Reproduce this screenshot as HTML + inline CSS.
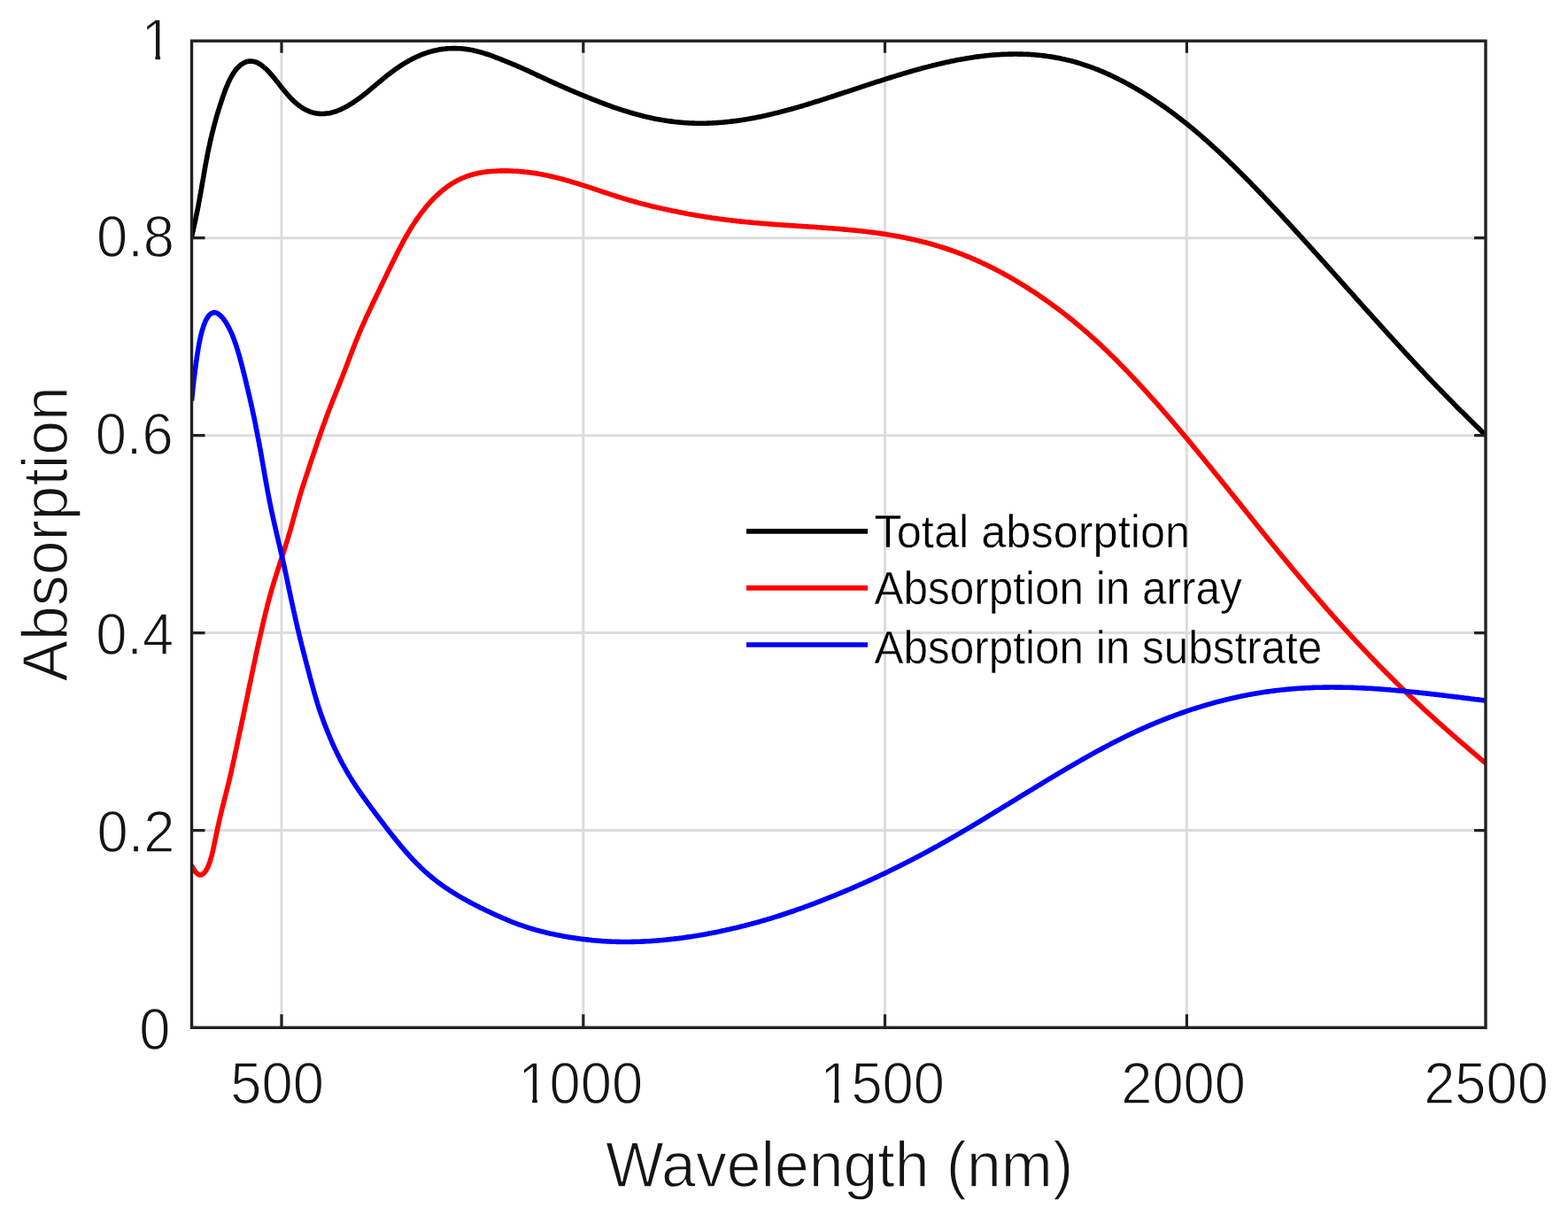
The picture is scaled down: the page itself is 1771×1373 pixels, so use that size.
<!DOCTYPE html>
<html><head><meta charset="utf-8"><title>Absorption spectrum</title>
<style>html,body{margin:0;padding:0;background:#fff;overflow:hidden;}svg{display:block;}</style>
</head><body>
<svg xmlns="http://www.w3.org/2000/svg" width="1771" height="1373" viewBox="0 0 1771 1373">
<rect width="1771" height="1373" fill="#fff"/>
<path d="M318.0,46.2V1160.3M658.8,46.2V1160.3M999.5,46.2V1160.3M1340.4,46.2V1160.3M216.5,937.6H1678.0M216.5,714.6H1678.0M216.5,491.7H1678.0M216.5,268.7H1678.0" stroke="#262626" stroke-opacity="0.16" stroke-width="3" fill="none"/>
<clipPath id="c"><rect x="216.5" y="46.2" width="1461.5" height="1114.1"/></clipPath>
<g clip-path="url(#c)" fill="none" stroke-width="5.6" stroke-linejoin="round" stroke-linecap="butt">
<path d="M216.6,267.0 216.9,265.5 217.2,264.1 217.5,262.6 217.9,261.2 218.2,259.7 218.5,258.2 218.9,256.8 219.2,255.3 219.5,253.8 219.8,252.4 220.1,250.9 220.5,249.4 220.8,248.0 221.1,246.5 221.4,245.0 221.7,243.5 222.0,242.1 222.3,240.6 222.6,239.1 222.9,237.7 223.2,236.2 223.5,234.7 223.8,233.2 224.1,231.8 224.3,230.3 224.6,228.8 224.9,227.3 225.2,225.9 225.4,224.4 225.7,222.9 226.0,221.4 226.2,220.0 226.5,218.5 226.8,217.0 227.0,215.5 227.3,214.0 227.6,212.6 227.8,211.1 228.1,209.6 228.3,208.1 228.6,206.6 228.8,205.2 229.1,203.7 229.4,202.2 229.6,200.7 229.9,199.2 230.1,197.8 230.4,196.3 230.6,194.8 230.9,193.3 231.2,191.8 231.4,190.4 231.7,188.9 231.9,187.4 232.2,185.9 232.5,184.5 232.8,183.0 233.0,181.5 233.3,180.0 233.6,178.6 233.9,177.1 234.1,175.6 234.4,174.1 234.7,172.7 235.0,171.2 235.3,169.7 235.6,168.3 235.9,166.8 236.2,165.3 236.6,163.9 236.9,162.4 237.2,160.9 237.5,159.5 237.9,158.0 238.2,156.6 238.5,155.1 238.9,153.6 239.2,152.2 239.6,150.7 239.9,149.3 240.3,147.8 240.7,146.4 241.0,144.9 241.4,143.5 241.8,142.0 242.2,140.6 242.6,139.1 243.0,137.7 243.4,136.2 243.8,134.8 244.2,133.3 244.6,131.8 245.0,130.4 245.4,128.9 245.9,127.5 246.3,126.0 246.8,124.6 247.2,123.1 247.7,121.7 248.1,120.2 248.6,118.7 249.1,117.3 249.6,115.8 250.0,114.4 250.5,112.9 251.0,111.4 251.5,109.9 252.0,108.5 252.6,107.0 253.1,105.5 253.6,104.1 254.2,102.6 254.7,101.1 255.3,99.6 255.9,98.2 256.5,96.7 257.1,95.3 257.7,93.8 258.3,92.4 259.0,91.0 259.7,89.6 260.4,88.2 261.1,86.8 261.9,85.5 262.7,84.1 263.5,82.9 264.3,81.6 265.2,80.4 266.1,79.2 267.0,78.0 268.0,76.9 269.0,75.9 270.0,74.9 271.1,74.0 272.1,73.1 273.3,72.3 274.4,71.6 275.6,71.0 276.7,70.4 277.9,69.9 279.2,69.6 280.4,69.3 281.7,69.1 282.9,69.0 284.2,69.1 285.4,69.2 286.7,69.4 287.9,69.8 289.2,70.2 290.4,70.7 291.6,71.3 292.8,72.0 294.0,72.7 295.2,73.5 296.4,74.4 297.5,75.3 298.6,76.3 299.8,77.3 300.9,78.3 302.0,79.4 303.0,80.5 304.1,81.6 305.1,82.8 306.2,83.9 307.2,85.1 308.2,86.3 309.2,87.6 310.2,88.8 311.2,90.0 312.2,91.3 313.2,92.5 314.2,93.8 315.2,95.0 316.1,96.3 317.1,97.5 318.1,98.7 319.1,100.0 320.1,101.2 321.1,102.4 322.1,103.6 323.1,104.8 324.1,106.0 325.1,107.2 326.2,108.4 327.2,109.5 328.3,110.6 329.3,111.7 330.4,112.8 331.5,113.9 332.6,114.9 333.7,115.9 334.9,116.9 336.0,117.9 337.2,118.8 338.4,119.7 339.6,120.5 340.8,121.3 342.0,122.1 343.3,122.9 344.5,123.6 345.8,124.2 347.1,124.9 348.4,125.4 349.7,126.0 351.1,126.4 352.4,126.9 353.8,127.3 355.2,127.6 356.6,127.9 357.9,128.1 359.4,128.3 360.8,128.4 362.2,128.5 363.6,128.5 365.0,128.5 366.5,128.4 367.9,128.3 369.3,128.1 370.7,127.9 372.2,127.7 373.6,127.4 375.0,127.0 376.4,126.6 377.8,126.2 379.2,125.8 380.6,125.3 382.0,124.7 383.4,124.2 384.8,123.6 386.1,123.0 387.5,122.3 388.8,121.6 390.2,120.9 391.5,120.2 392.8,119.5 394.1,118.7 395.4,117.9 396.7,117.1 398.0,116.3 399.3,115.5 400.5,114.6 401.8,113.7 403.0,112.9 404.3,112.0 405.5,111.1 406.8,110.2 408.0,109.3 409.2,108.3 410.4,107.4 411.6,106.5 412.8,105.5 414.0,104.6 415.2,103.6 416.3,102.6 417.5,101.7 418.7,100.7 419.8,99.7 421.0,98.7 422.2,97.8 423.3,96.8 424.5,95.8 425.6,94.8 426.8,93.9 428.0,92.9 429.1,91.9 430.3,91.0 431.5,90.0 432.6,89.0 433.8,88.1 435.0,87.1 436.1,86.2 437.3,85.2 438.5,84.3 439.7,83.4 440.9,82.5 442.1,81.6 443.3,80.7 444.5,79.8 445.7,78.9 447.0,78.0 448.2,77.2 449.4,76.3 450.7,75.5 451.9,74.7 453.2,73.8 454.5,73.0 455.7,72.2 457.0,71.4 458.3,70.7 459.6,69.9 460.9,69.2 462.2,68.4 463.5,67.7 464.9,67.0 466.2,66.3 467.5,65.6 468.9,65.0 470.2,64.3 471.6,63.7 473.0,63.1 474.3,62.5 475.7,61.9 477.1,61.4 478.5,60.8 479.9,60.3 481.3,59.8 482.7,59.4 484.2,58.9 485.6,58.5 487.0,58.1 488.5,57.7 489.9,57.3 491.4,57.0 492.8,56.7 494.3,56.4 495.8,56.1 497.2,55.8 498.7,55.6 500.2,55.4 501.7,55.2 503.1,55.1 504.6,54.9 506.1,54.8 507.6,54.7 509.1,54.7 510.6,54.6 512.1,54.6 513.6,54.6 515.1,54.6 516.6,54.7 518.1,54.7 519.6,54.8 521.1,54.9 522.5,55.0 524.0,55.2 525.5,55.4 527.0,55.6 528.5,55.8 529.9,56.0 531.4,56.3 532.9,56.5 534.3,56.8 535.8,57.2 537.3,57.5 538.7,57.9 540.2,58.2 541.6,58.6 543.0,59.0 544.5,59.4 545.9,59.9 547.4,60.3 548.8,60.8 550.2,61.2 551.6,61.7 553.1,62.2 554.5,62.7 555.9,63.2 557.3,63.7 558.7,64.3 560.1,64.8 561.5,65.3 562.9,65.9 564.3,66.4 565.7,67.0 567.1,67.5 568.5,68.1 569.9,68.6 571.3,69.2 572.7,69.8 574.1,70.3 575.5,70.9 576.9,71.5 578.3,72.1 579.7,72.6 580.0,72.8 581.5,73.4 583.0,74.0 584.5,74.7 586.0,75.3 587.5,76.0 589.0,76.6 590.5,77.3 592.0,78.0 593.5,78.7 595.0,79.3 596.5,80.0 598.0,80.7 599.5,81.4 601.0,82.1 602.5,82.8 604.0,83.5 605.5,84.2 607.0,84.9 608.5,85.6 610.0,86.3 611.5,87.0 613.0,87.7 614.5,88.4 616.0,89.1 617.5,89.8 619.0,90.5 620.5,91.2 622.0,91.9 623.5,92.6 625.0,93.2 626.5,93.9 628.0,94.6 629.5,95.3 631.0,96.0 632.5,96.6 634.0,97.3 635.5,98.0 637.0,98.6 638.5,99.3 640.0,99.9 641.5,100.6 643.0,101.2 644.5,101.9 646.0,102.5 647.5,103.1 649.0,103.8 650.5,104.4 652.0,105.0 653.5,105.7 655.0,106.3 656.5,106.9 658.0,107.5 659.5,108.1 661.0,108.7 662.5,109.4 664.0,110.0 665.5,110.6 667.0,111.2 668.5,111.8 670.0,112.4 671.5,113.0 673.0,113.5 674.5,114.1 676.0,114.7 677.5,115.3 679.0,115.9 680.5,116.4 682.0,117.0 683.5,117.5 685.0,118.1 686.5,118.6 688.0,119.2 689.5,119.7 691.0,120.3 692.5,120.8 694.0,121.3 695.5,121.8 697.0,122.3 698.5,122.8 700.0,123.3 701.5,123.8 703.0,124.3 704.5,124.8 706.0,125.3 707.5,125.7 709.0,126.2 710.5,126.7 712.0,127.1 713.5,127.5 715.0,128.0 716.5,128.4 718.0,128.8 719.5,129.2 721.0,129.6 722.5,130.0 724.0,130.4 725.5,130.8 727.0,131.2 728.5,131.5 730.0,131.9 731.5,132.2 733.0,132.6 734.5,132.9 736.0,133.2 737.5,133.6 739.0,133.9 740.5,134.2 742.0,134.5 743.5,134.7 745.0,135.0 746.5,135.3 748.0,135.5 749.5,135.8 751.0,136.0 752.5,136.3 754.0,136.5 755.5,136.7 757.0,136.9 758.5,137.1 760.0,137.3 761.5,137.5 763.0,137.7 764.5,137.8 766.0,138.0 767.5,138.1 769.0,138.2 770.5,138.4 772.0,138.5 773.5,138.6 775.0,138.7 776.5,138.8 778.0,138.9 779.5,139.0 781.0,139.0 782.5,139.1 784.0,139.1 785.5,139.2 787.0,139.2 788.5,139.2 790.0,139.2 791.5,139.2 793.0,139.2 794.5,139.2 796.0,139.2 797.5,139.2 799.0,139.1 800.5,139.1 802.0,139.0 803.5,139.0 805.0,138.9 806.5,138.8 808.0,138.7 809.5,138.6 811.0,138.5 812.5,138.4 814.0,138.3 815.5,138.2 817.0,138.1 818.5,137.9 820.0,137.8 821.5,137.6 823.0,137.5 824.5,137.3 826.0,137.1 827.5,136.9 829.0,136.8 830.5,136.6 832.0,136.4 833.5,136.2 835.0,135.9 836.5,135.7 838.0,135.5 839.5,135.3 841.0,135.0 842.5,134.8 844.0,134.5 845.5,134.3 847.0,134.0 848.5,133.7 850.0,133.4 851.5,133.2 853.0,132.9 854.5,132.6 856.0,132.3 857.5,132.0 859.0,131.7 860.5,131.4 862.0,131.0 863.5,130.7 865.0,130.4 866.5,130.0 868.0,129.7 869.5,129.3 871.0,129.0 872.5,128.6 874.0,128.3 875.5,127.9 877.0,127.5 878.5,127.2 880.0,126.8 881.5,126.4 883.0,126.0 884.5,125.6 886.0,125.2 887.5,124.8 889.0,124.4 890.5,124.0 892.0,123.6 893.5,123.2 895.0,122.8 896.5,122.4 898.0,121.9 899.5,121.5 901.0,121.1 902.5,120.6 904.0,120.2 905.5,119.8 907.0,119.3 908.5,118.9 910.0,118.4 911.5,118.0 913.0,117.5 914.5,117.0 916.0,116.6 917.5,116.1 919.0,115.7 920.5,115.2 922.0,114.7 923.5,114.3 925.0,113.8 926.5,113.3 928.0,112.8 929.5,112.4 931.0,111.9 932.5,111.4 934.0,110.9 935.5,110.4 937.0,109.9 938.5,109.5 940.0,109.0 941.5,108.5 943.0,108.0 944.5,107.5 946.0,107.0 947.5,106.5 949.0,106.0 950.5,105.5 952.0,105.0 953.5,104.5 955.0,104.0 956.5,103.6 958.0,103.1 959.5,102.6 961.0,102.1 962.5,101.6 964.0,101.1 965.5,100.6 967.0,100.1 968.5,99.6 970.0,99.1 971.5,98.6 973.0,98.1 974.5,97.6 976.0,97.1 977.5,96.6 979.0,96.1 980.5,95.6 982.0,95.2 983.5,94.7 985.0,94.2 986.5,93.7 988.0,93.2 989.5,92.7 991.0,92.2 992.5,91.8 994.0,91.3 995.5,90.8 997.0,90.3 998.5,89.8 1000.0,89.4 1001.5,88.9 1003.0,88.4 1004.5,88.0 1006.0,87.5 1007.5,87.0 1009.0,86.6 1010.5,86.1 1012.0,85.6 1013.5,85.2 1015.0,84.7 1016.5,84.3 1018.0,83.8 1019.5,83.4 1021.0,82.9 1022.5,82.5 1024.0,82.0 1025.5,81.6 1027.0,81.1 1028.5,80.7 1030.0,80.3 1031.5,79.8 1033.0,79.4 1034.5,79.0 1036.0,78.6 1037.5,78.2 1039.0,77.8 1040.5,77.3 1042.0,76.9 1043.5,76.5 1045.0,76.1 1046.5,75.7 1048.0,75.4 1049.5,75.0 1051.0,74.6 1052.5,74.2 1054.0,73.8 1055.5,73.5 1057.0,73.1 1058.5,72.7 1060.0,72.4 1061.5,72.0 1063.0,71.7 1064.5,71.3 1066.0,71.0 1067.5,70.6 1069.0,70.3 1070.5,70.0 1072.0,69.7 1073.5,69.3 1075.0,69.0 1076.5,68.7 1078.0,68.4 1079.5,68.1 1081.0,67.8 1082.5,67.5 1084.0,67.3 1085.5,67.0 1087.0,66.7 1088.5,66.5 1090.0,66.2 1091.5,65.9 1093.0,65.7 1094.5,65.5 1096.0,65.2 1097.5,65.0 1099.0,64.8 1100.5,64.5 1102.0,64.3 1103.5,64.1 1105.0,63.9 1106.5,63.7 1108.0,63.5 1109.5,63.4 1111.0,63.2 1112.5,63.0 1114.0,62.8 1115.5,62.7 1117.0,62.5 1118.5,62.4 1120.0,62.3 1121.5,62.1 1123.0,62.0 1124.5,61.9 1126.0,61.8 1127.5,61.7 1129.0,61.6 1130.5,61.5 1132.0,61.4 1133.5,61.4 1135.0,61.3 1136.5,61.2 1138.0,61.2 1139.5,61.1 1141.0,61.1 1142.5,61.1 1144.0,61.1 1145.5,61.0 1147.0,61.0 1148.5,61.0 1150.0,61.1 1151.5,61.1 1153.0,61.1 1154.5,61.1 1156.0,61.2 1157.5,61.2 1159.0,61.3 1160.5,61.4 1162.0,61.4 1163.5,61.5 1165.0,61.6 1166.5,61.7 1168.0,61.8 1169.5,62.0 1171.0,62.1 1172.5,62.2 1174.0,62.4 1175.5,62.5 1177.0,62.7 1178.5,62.9 1180.0,63.1 1181.5,63.3 1183.0,63.5 1184.5,63.7 1186.0,63.9 1187.5,64.1 1189.0,64.4 1190.5,64.6 1192.0,64.9 1193.5,65.2 1195.0,65.4 1196.5,65.7 1198.0,66.0 1199.5,66.4 1201.0,66.7 1202.5,67.0 1204.0,67.4 1205.5,67.7 1207.0,68.1 1208.5,68.4 1210.0,68.8 1211.5,69.2 1213.0,69.6 1214.5,70.0 1216.0,70.5 1217.5,70.9 1219.0,71.4 1220.5,71.8 1222.0,72.3 1223.5,72.8 1225.0,73.3 1226.5,73.8 1228.0,74.3 1229.5,74.8 1231.0,75.3 1232.5,75.9 1234.0,76.4 1235.5,77.0 1237.0,77.6 1238.5,78.1 1240.0,78.7 1241.5,79.4 1243.0,80.0 1244.5,80.6 1246.0,81.2 1247.5,81.9 1249.0,82.5 1250.5,83.2 1252.0,83.9 1253.5,84.6 1255.0,85.3 1256.5,86.0 1258.0,86.7 1259.5,87.4 1261.0,88.2 1262.5,88.9 1264.0,89.7 1265.5,90.4 1267.0,91.2 1268.5,92.0 1270.0,92.8 1271.5,93.6 1273.0,94.4 1274.5,95.2 1276.0,96.0 1277.5,96.9 1279.0,97.7 1280.5,98.6 1282.0,99.4 1283.5,100.3 1285.0,101.2 1286.5,102.1 1288.0,103.0 1289.5,103.9 1291.0,104.8 1292.5,105.7 1294.0,106.7 1295.5,107.6 1297.0,108.6 1298.5,109.5 1300.0,110.5 1301.5,111.5 1303.0,112.5 1304.5,113.5 1306.0,114.5 1307.5,115.5 1309.0,116.5 1310.5,117.5 1312.0,118.6 1313.5,119.6 1315.0,120.7 1316.5,121.7 1318.0,122.8 1319.5,123.9 1321.0,125.0 1322.5,126.1 1324.0,127.2 1325.5,128.3 1327.0,129.4 1328.5,130.6 1330.0,131.7 1331.5,132.9 1333.0,134.0 1334.5,135.2 1336.0,136.4 1337.5,137.6 1339.0,138.7 1340.5,139.9 1342.0,141.2 1343.5,142.4 1345.0,143.6 1346.5,144.8 1348.0,146.1 1349.5,147.4 1351.0,148.6 1352.5,149.9 1354.0,151.2 1355.5,152.5 1357.0,153.8 1358.5,155.1 1360.0,156.4 1361.5,157.7 1363.0,159.0 1364.5,160.4 1366.0,161.7 1367.5,163.1 1369.0,164.4 1370.5,165.8 1372.0,167.2 1373.5,168.5 1375.0,169.9 1376.5,171.3 1378.0,172.7 1379.5,174.1 1381.0,175.5 1382.5,177.0 1384.0,178.4 1385.5,179.8 1387.0,181.3 1388.5,182.7 1390.0,184.2 1391.5,185.6 1393.0,187.1 1394.5,188.6 1396.0,190.0 1397.5,191.5 1399.0,193.0 1400.5,194.5 1402.0,196.0 1403.5,197.5 1405.0,199.0 1406.5,200.5 1408.0,202.0 1409.5,203.6 1411.0,205.1 1412.5,206.6 1414.0,208.2 1415.5,209.7 1417.0,211.3 1418.5,212.8 1420.0,214.4 1421.5,215.9 1423.0,217.5 1424.5,219.0 1426.0,220.6 1427.5,222.2 1429.0,223.8 1430.5,225.3 1432.0,226.9 1433.5,228.5 1435.0,230.1 1436.5,231.7 1438.0,233.3 1439.5,234.9 1441.0,236.5 1442.5,238.1 1444.0,239.7 1445.5,241.3 1447.0,242.9 1448.5,244.5 1450.0,246.2 1451.5,247.8 1453.0,249.4 1454.5,251.0 1456.0,252.7 1457.5,254.3 1459.0,255.9 1460.5,257.6 1462.0,259.2 1463.5,260.9 1465.0,262.5 1466.5,264.1 1468.0,265.8 1469.5,267.4 1471.0,269.1 1472.5,270.8 1474.0,272.4 1475.5,274.1 1477.0,275.7 1478.5,277.4 1480.0,279.1 1481.5,280.7 1483.0,282.4 1484.5,284.1 1486.0,285.7 1487.5,287.4 1489.0,289.1 1490.5,290.7 1492.0,292.4 1493.5,294.1 1495.0,295.7 1496.5,297.4 1498.0,299.1 1499.5,300.8 1501.0,302.5 1502.5,304.1 1504.0,305.8 1505.5,307.5 1507.0,309.2 1508.5,310.8 1510.0,312.5 1511.5,314.2 1513.0,315.9 1514.5,317.6 1516.0,319.3 1517.5,320.9 1519.0,322.6 1520.5,324.3 1522.0,326.0 1523.5,327.7 1525.0,329.3 1526.5,331.0 1528.0,332.7 1529.5,334.4 1531.0,336.1 1532.5,337.8 1534.0,339.4 1535.5,341.1 1537.0,342.8 1538.5,344.5 1540.0,346.2 1541.5,347.8 1543.0,349.5 1544.5,351.2 1546.0,352.9 1547.5,354.5 1549.0,356.2 1550.5,357.9 1552.0,359.5 1553.5,361.2 1555.0,362.9 1556.5,364.5 1558.0,366.2 1559.5,367.9 1561.0,369.5 1562.5,371.2 1564.0,372.8 1565.5,374.5 1567.0,376.1 1568.5,377.8 1570.0,379.4 1571.5,381.1 1573.0,382.7 1574.5,384.4 1576.0,386.0 1577.5,387.7 1579.0,389.3 1580.5,390.9 1582.0,392.6 1583.5,394.2 1585.0,395.8 1586.5,397.5 1588.0,399.1 1589.5,400.7 1591.0,402.4 1592.5,404.0 1594.0,405.6 1595.5,407.2 1597.0,408.8 1598.5,410.5 1600.0,412.1 1601.5,413.7 1603.0,415.3 1604.5,416.9 1606.0,418.5 1607.5,420.1 1609.0,421.7 1610.5,423.3 1612.0,424.9 1613.5,426.5 1615.0,428.0 1616.5,429.6 1618.0,431.2 1619.5,432.8 1621.0,434.3 1622.5,435.9 1624.0,437.4 1625.5,439.0 1627.0,440.5 1628.5,442.1 1630.0,443.6 1631.5,445.2 1633.0,446.7 1634.5,448.2 1636.0,449.8 1637.5,451.3 1639.0,452.8 1640.5,454.3 1642.0,455.8 1643.5,457.4 1645.0,458.9 1646.5,460.4 1648.0,461.9 1649.5,463.4 1651.0,464.9 1652.5,466.3 1654.0,467.8 1655.5,469.3 1657.0,470.8 1658.5,472.3 1660.0,473.8 1661.5,475.3 1663.0,476.7 1664.5,478.2 1666.0,479.7 1667.5,481.2 1669.0,482.6 1670.5,484.1 1672.0,485.6 1673.5,487.0 1675.0,488.5 1676.5,490.0 1678.0,491.4" stroke="#000"/>
<path d="M216.2,976.9 216.9,978.2 217.6,979.4 218.3,980.7 219.1,981.9 219.8,983.0 220.6,984.1 221.3,985.1 222.1,985.9 223.0,986.6 223.8,987.2 224.6,987.6 225.5,987.9 226.3,987.9 227.1,987.8 228.0,987.5 228.8,987.1 229.6,986.6 230.3,985.9 231.0,985.1 231.8,984.2 232.4,983.2 233.1,982.2 233.7,981.0 234.4,979.8 235.0,978.5 235.5,977.1 236.1,975.7 236.6,974.3 237.1,972.8 237.6,971.2 238.1,969.7 238.5,968.1 239.0,966.5 239.4,964.9 239.8,963.2 240.2,961.6 240.6,959.9 241.0,958.2 241.3,956.6 241.7,954.9 242.0,953.2 242.4,951.5 242.7,949.9 243.1,948.2 243.4,946.5 243.8,944.9 244.1,943.3 244.4,941.6 244.8,940.0 245.1,938.4 245.5,936.8 245.8,935.2 246.1,933.6 246.5,932.0 246.8,930.4 247.2,928.9 247.5,927.3 247.9,925.8 248.2,924.3 248.6,922.7 248.9,921.2 249.3,919.7 249.6,918.2 250.0,916.7 250.4,915.2 250.7,913.7 251.1,912.2 251.5,910.8 251.8,909.3 252.2,907.8 252.6,906.4 252.9,904.9 253.3,903.5 253.7,902.0 254.1,900.5 254.4,899.1 254.8,897.6 255.2,896.2 255.5,894.7 255.9,893.3 256.3,891.8 256.6,890.4 257.0,888.9 257.3,887.5 257.7,886.0 258.1,884.6 258.4,883.1 258.8,881.7 259.1,880.2 259.5,878.8 259.8,877.3 260.1,875.9 260.5,874.4 260.8,873.0 261.2,871.5 261.5,870.0 261.8,868.6 262.1,867.1 262.5,865.7 262.8,864.2 263.1,862.7 263.4,861.3 263.7,859.8 264.1,858.4 264.4,856.9 264.7,855.4 265.0,854.0 265.3,852.5 265.6,851.0 265.9,849.6 266.2,848.1 266.6,846.6 266.9,845.2 267.2,843.7 267.5,842.2 267.8,840.7 268.1,839.3 268.4,837.8 268.7,836.3 269.0,834.9 269.4,833.4 269.7,831.9 270.0,830.5 270.3,829.0 270.6,827.5 270.9,826.1 271.3,824.6 271.6,823.1 271.9,821.7 272.2,820.2 272.5,818.7 272.8,817.2 273.1,815.8 273.4,814.3 273.8,812.8 274.1,811.4 274.4,809.9 274.7,808.4 275.0,807.0 275.3,805.5 275.6,804.0 275.9,802.6 276.2,801.1 276.5,799.6 276.8,798.1 277.1,796.7 277.4,795.2 277.7,793.7 278.1,792.3 278.4,790.8 278.7,789.3 279.0,787.8 279.3,786.4 279.6,784.9 279.9,783.4 280.2,782.0 280.5,780.5 280.8,779.0 281.1,777.6 281.4,776.1 281.7,774.6 282.0,773.1 282.4,771.7 282.7,770.2 283.0,768.7 283.3,767.3 283.6,765.8 283.9,764.3 284.2,762.9 284.5,761.4 284.8,759.9 285.1,758.4 285.4,757.0 285.7,755.5 286.0,754.0 286.3,752.6 286.6,751.1 287.0,749.6 287.3,748.2 287.6,746.7 287.9,745.2 288.2,743.8 288.5,742.3 288.8,740.8 289.1,739.4 289.4,737.9 289.8,736.4 290.1,735.0 290.4,733.5 290.7,732.0 291.1,730.6 291.4,729.1 291.7,727.6 292.0,726.2 292.4,724.7 292.7,723.2 293.0,721.8 293.4,720.3 293.7,718.8 294.0,717.4 294.4,715.9 294.7,714.5 295.0,713.0 295.4,711.5 295.7,710.1 296.0,708.6 296.4,707.1 296.7,705.7 297.0,704.2 297.4,702.7 297.7,701.3 298.1,699.8 298.4,698.4 298.8,696.9 299.1,695.4 299.5,694.0 299.8,692.5 300.2,691.1 300.5,689.6 300.9,688.1 301.3,686.7 301.6,685.2 302.0,683.8 302.4,682.3 302.7,680.9 303.1,679.4 303.5,678.0 303.9,676.5 304.3,675.1 304.7,673.6 305.1,672.2 305.5,670.7 305.9,669.3 306.3,667.8 306.7,666.4 307.1,665.0 307.5,663.5 308.0,662.1 308.4,660.6 308.8,659.2 309.3,657.8 309.7,656.3 310.1,654.9 310.6,653.5 311.0,652.0 311.5,650.6 311.9,649.2 312.4,647.7 312.9,646.3 313.3,644.9 313.8,643.4 314.2,642.0 314.7,640.6 315.2,639.1 315.6,637.7 316.1,636.3 316.5,634.9 317.0,633.4 317.5,632.0 317.9,630.6 318.4,629.1 318.9,627.7 319.3,626.3 319.8,624.9 320.3,623.4 320.7,622.0 321.2,620.6 321.6,619.1 322.1,617.7 322.5,616.3 323.0,614.8 323.4,613.4 323.9,612.0 324.3,610.5 324.8,609.1 325.2,607.7 325.6,606.2 326.1,604.8 326.5,603.4 326.9,601.9 327.4,600.5 327.8,599.0 328.2,597.6 328.6,596.2 329.0,594.7 329.4,593.3 329.8,591.8 330.2,590.4 330.6,588.9 331.0,587.5 331.4,586.0 331.8,584.6 332.2,583.1 332.6,581.7 333.0,580.2 333.4,578.8 333.8,577.4 334.2,575.9 334.6,574.5 335.0,573.0 335.4,571.6 335.8,570.1 336.2,568.7 336.6,567.2 337.0,565.8 337.4,564.3 337.8,562.9 338.2,561.5 338.7,560.0 339.1,558.6 339.5,557.2 340.0,555.7 340.4,554.3 340.9,552.9 341.3,551.4 341.8,550.0 342.2,548.6 342.7,547.1 343.2,545.7 343.6,544.3 344.1,542.9 344.6,541.4 345.0,540.0 345.5,538.6 346.0,537.2 346.4,535.7 346.9,534.3 347.4,532.9 347.9,531.5 348.3,530.0 348.8,528.6 349.3,527.2 349.7,525.8 350.2,524.3 350.7,522.9 351.2,521.5 351.6,520.1 352.1,518.6 352.6,517.2 353.1,515.8 353.6,514.4 354.0,512.9 354.5,511.5 355.0,510.1 355.5,508.7 355.9,507.3 356.4,505.8 356.9,504.4 357.4,503.0 357.9,501.6 358.4,500.1 358.8,498.7 359.3,497.3 359.8,495.9 360.3,494.5 360.8,493.1 361.3,491.6 361.8,490.2 362.3,488.8 362.7,487.4 363.2,486.0 363.7,484.6 364.2,483.1 364.7,481.7 365.2,480.3 365.8,478.9 366.3,477.5 366.8,476.1 367.3,474.7 367.8,473.3 368.3,471.9 368.9,470.4 369.4,469.0 369.9,467.6 370.5,466.2 371.0,464.8 371.5,463.4 372.1,462.0 372.6,460.6 373.2,459.2 373.7,457.8 374.2,456.4 374.8,455.0 375.3,453.6 375.9,452.2 376.5,450.9 377.0,449.5 377.6,448.1 378.1,446.7 378.7,445.3 379.2,443.9 379.8,442.5 380.4,441.1 380.9,439.7 381.5,438.3 382.0,436.9 382.6,435.5 383.2,434.1 383.7,432.7 384.3,431.3 384.8,429.9 385.4,428.5 385.9,427.1 386.5,425.8 387.0,424.4 387.6,423.0 388.1,421.6 388.7,420.2 389.2,418.8 389.8,417.4 390.3,416.0 390.8,414.6 391.4,413.2 391.9,411.8 392.4,410.4 393.0,408.9 393.5,407.5 394.0,406.1 394.6,404.7 395.1,403.3 395.6,401.9 396.1,400.5 396.7,399.1 397.2,397.7 397.7,396.3 398.3,394.9 398.8,393.5 399.4,392.1 399.9,390.7 400.5,389.3 401.0,387.9 401.6,386.5 402.1,385.1 402.7,383.7 403.3,382.3 403.8,381.0 404.4,379.6 405.0,378.2 405.5,376.8 406.1,375.4 406.7,374.0 407.3,372.7 407.9,371.3 408.5,369.9 409.1,368.5 409.7,367.2 410.3,365.8 410.9,364.4 411.6,363.0 412.2,361.7 412.8,360.3 413.4,358.9 414.0,357.6 414.7,356.2 415.3,354.9 415.9,353.5 416.6,352.1 417.2,350.8 417.8,349.4 418.5,348.1 419.1,346.7 419.8,345.3 420.4,344.0 421.0,342.6 421.7,341.3 422.3,339.9 423.0,338.6 423.6,337.2 424.3,335.9 424.9,334.5 425.6,333.1 426.2,331.8 426.9,330.4 427.5,329.1 428.2,327.7 428.8,326.4 429.5,325.0 430.1,323.7 430.8,322.3 431.4,321.0 432.1,319.6 432.7,318.3 433.4,316.9 434.0,315.6 434.7,314.2 435.3,312.9 436.0,311.5 436.6,310.2 437.3,308.8 437.9,307.5 438.6,306.1 439.3,304.8 439.9,303.4 440.6,302.1 441.2,300.7 441.9,299.4 442.5,298.0 443.2,296.7 443.9,295.3 444.5,294.0 445.2,292.6 445.9,291.3 446.5,289.9 447.2,288.6 447.9,287.3 448.5,285.9 449.2,284.6 449.9,283.2 450.6,281.9 451.3,280.6 452.0,279.2 452.7,277.9 453.4,276.6 454.1,275.3 454.8,273.9 455.5,272.6 456.2,271.3 456.9,270.0 457.7,268.7 458.4,267.4 459.1,266.1 459.9,264.8 460.6,263.5 461.4,262.2 462.2,260.9 462.9,259.6 463.7,258.3 464.5,257.1 465.3,255.8 466.1,254.5 466.9,253.3 467.8,252.0 468.6,250.8 469.4,249.5 470.3,248.3 471.1,247.0 472.0,245.8 472.9,244.6 473.8,243.4 474.6,242.2 475.5,240.9 476.5,239.7 477.4,238.5 478.3,237.4 479.2,236.2 480.2,235.0 481.1,233.8 482.1,232.7 483.0,231.5 484.0,230.4 485.0,229.3 486.0,228.1 487.0,227.0 488.1,225.9 489.1,224.8 490.1,223.8 491.2,222.7 492.3,221.7 493.4,220.6 494.5,219.6 495.6,218.6 496.7,217.6 497.8,216.6 499.0,215.7 500.1,214.7 501.3,213.8 502.5,212.9 503.7,212.0 504.9,211.1 506.1,210.2 507.3,209.4 508.5,208.5 509.8,207.7 511.0,206.9 512.3,206.2 513.6,205.4 514.9,204.7 516.2,204.0 517.5,203.3 518.8,202.7 520.2,202.0 521.5,201.4 522.9,200.8 524.2,200.3 525.6,199.7 527.0,199.2 528.4,198.7 529.8,198.3 531.2,197.8 532.6,197.4 534.1,197.0 535.5,196.6 537.0,196.3 538.4,195.9 539.9,195.6 541.3,195.3 542.8,195.0 544.3,194.8 545.7,194.5 547.2,194.3 548.7,194.1 550.2,193.9 551.7,193.8 553.2,193.6 554.7,193.5 556.2,193.4 557.7,193.3 559.2,193.2 560.7,193.1 562.2,193.0 563.7,193.0 565.2,192.9 566.8,192.9 568.3,192.9 569.8,192.9 571.3,192.9 572.8,192.9 574.3,192.9 575.8,193.0 577.3,193.0 578.8,193.1 580.3,193.2 581.8,193.2 583.3,193.3 584.8,193.4 586.4,193.5 587.9,193.7 589.4,193.8 590.8,193.9 592.3,194.1 593.8,194.2 595.3,194.4 596.8,194.6 598.3,194.8 599.8,194.9 601.3,195.2 602.8,195.4 604.3,195.6 605.7,195.8 607.2,196.1 608.7,196.3 610.2,196.6 611.7,196.9 613.1,197.1 614.6,197.4 616.1,197.7 617.6,198.0 619.0,198.3 620.5,198.7 621.9,199.0 623.4,199.3 624.9,199.7 626.3,200.0 627.8,200.4 629.2,200.8 630.7,201.1 632.2,201.5 633.6,201.9 635.1,202.3 636.5,202.7 638.0,203.1 639.4,203.5 640.8,203.9 642.3,204.3 643.7,204.7 645.2,205.1 646.6,205.6 648.1,206.0 649.5,206.4 650.9,206.9 652.4,207.3 653.8,207.7 655.2,208.2 656.7,208.6 658.1,209.1 659.5,209.5 660.0,209.7 661.5,210.2 663.0,210.6 664.5,211.1 666.0,211.6 667.5,212.1 669.0,212.6 670.5,213.1 672.0,213.6 673.5,214.1 675.0,214.6 676.5,215.1 678.0,215.6 679.5,216.1 681.0,216.6 682.5,217.1 684.0,217.6 685.5,218.1 687.0,218.6 688.5,219.1 690.0,219.6 691.5,220.1 693.0,220.6 694.5,221.0 696.0,221.5 697.5,222.0 699.0,222.5 700.5,222.9 702.0,223.4 703.5,223.9 705.0,224.3 706.5,224.8 708.0,225.2 709.5,225.7 711.0,226.1 712.5,226.5 714.0,227.0 715.5,227.4 717.0,227.8 718.5,228.2 720.0,228.6 721.5,229.1 723.0,229.5 724.5,229.9 726.0,230.2 727.5,230.6 729.0,231.0 730.5,231.4 732.0,231.8 733.5,232.1 735.0,232.5 736.5,232.9 738.0,233.2 739.5,233.6 741.0,233.9 742.5,234.3 744.0,234.6 745.5,235.0 747.0,235.3 748.5,235.6 750.0,236.0 751.5,236.3 753.0,236.6 754.5,236.9 756.0,237.3 757.5,237.6 759.0,237.9 760.5,238.2 762.0,238.5 763.5,238.8 765.0,239.1 766.5,239.4 768.0,239.7 769.5,240.0 771.0,240.3 772.5,240.6 774.0,240.9 775.5,241.2 777.0,241.5 778.5,241.7 780.0,242.0 781.5,242.3 783.0,242.6 784.5,242.8 786.0,243.1 787.5,243.3 789.0,243.6 790.5,243.8 792.0,244.1 793.5,244.3 795.0,244.6 796.5,244.8 798.0,245.1 799.5,245.3 801.0,245.5 802.5,245.7 804.0,246.0 805.5,246.2 807.0,246.4 808.5,246.6 810.0,246.8 811.5,247.0 813.0,247.2 814.5,247.4 816.0,247.6 817.5,247.8 819.0,248.0 820.5,248.2 822.0,248.4 823.5,248.5 825.0,248.7 826.5,248.9 828.0,249.1 829.5,249.2 831.0,249.4 832.5,249.6 834.0,249.7 835.5,249.9 837.0,250.1 838.5,250.2 840.0,250.4 841.5,250.5 843.0,250.7 844.5,250.8 846.0,251.0 847.5,251.1 849.0,251.2 850.5,251.4 852.0,251.5 853.5,251.7 855.0,251.8 856.5,251.9 858.0,252.0 859.5,252.2 861.0,252.3 862.5,252.4 864.0,252.5 865.5,252.7 867.0,252.8 868.5,252.9 870.0,253.0 871.5,253.1 873.0,253.2 874.5,253.4 876.0,253.5 877.5,253.6 879.0,253.7 880.5,253.8 882.0,253.9 883.5,254.0 885.0,254.1 886.5,254.2 888.0,254.3 889.5,254.4 891.0,254.5 892.5,254.6 894.0,254.7 895.5,254.8 897.0,254.9 898.5,255.0 900.0,255.1 901.5,255.2 903.0,255.3 904.5,255.4 906.0,255.5 907.5,255.6 909.0,255.7 910.5,255.8 912.0,255.9 913.5,256.0 915.0,256.1 916.5,256.2 918.0,256.3 919.5,256.4 921.0,256.5 922.5,256.6 924.0,256.7 925.5,256.8 927.0,256.9 928.5,257.0 930.0,257.1 931.5,257.3 933.0,257.4 934.5,257.5 936.0,257.6 937.5,257.7 939.0,257.8 940.5,257.9 942.0,258.0 943.5,258.2 945.0,258.3 946.5,258.4 948.0,258.5 949.5,258.7 951.0,258.8 952.5,258.9 954.0,259.1 955.5,259.2 957.0,259.3 958.5,259.5 960.0,259.6 961.5,259.7 963.0,259.9 964.5,260.0 966.0,260.2 967.5,260.3 969.0,260.5 970.5,260.7 972.0,260.8 973.5,261.0 975.0,261.2 976.5,261.3 978.0,261.5 979.5,261.7 981.0,261.9 982.5,262.0 984.0,262.2 985.5,262.4 987.0,262.6 988.5,262.8 990.0,263.0 991.5,263.2 993.0,263.4 994.5,263.6 996.0,263.9 997.5,264.1 999.0,264.3 1000.5,264.5 1002.0,264.8 1003.5,265.0 1005.0,265.3 1006.5,265.5 1008.0,265.8 1009.5,266.0 1011.0,266.3 1012.5,266.6 1014.0,266.8 1015.5,267.1 1017.0,267.4 1018.5,267.7 1020.0,268.0 1021.5,268.3 1023.0,268.6 1024.5,268.9 1026.0,269.2 1027.5,269.5 1029.0,269.9 1030.5,270.2 1032.0,270.5 1033.5,270.9 1035.0,271.2 1036.5,271.6 1038.0,271.9 1039.5,272.3 1041.0,272.7 1042.5,273.1 1044.0,273.4 1045.5,273.8 1047.0,274.2 1048.5,274.6 1050.0,275.0 1051.5,275.5 1053.0,275.9 1054.5,276.3 1056.0,276.8 1057.5,277.2 1059.0,277.6 1060.5,278.1 1062.0,278.6 1063.5,279.0 1065.0,279.5 1066.5,280.0 1068.0,280.5 1069.5,281.0 1071.0,281.5 1072.5,282.0 1074.0,282.5 1075.5,283.0 1077.0,283.6 1078.5,284.1 1080.0,284.7 1081.5,285.2 1083.0,285.8 1084.5,286.3 1086.0,286.9 1087.5,287.5 1089.0,288.1 1090.5,288.7 1092.0,289.3 1093.5,289.9 1095.0,290.5 1096.5,291.2 1098.0,291.8 1099.5,292.4 1101.0,293.1 1102.5,293.8 1104.0,294.4 1105.5,295.1 1107.0,295.8 1108.5,296.5 1110.0,297.2 1111.5,297.9 1113.0,298.6 1114.5,299.3 1116.0,300.0 1117.5,300.8 1119.0,301.5 1120.5,302.3 1122.0,303.0 1123.5,303.8 1125.0,304.6 1126.5,305.3 1128.0,306.1 1129.5,306.9 1131.0,307.7 1132.5,308.5 1134.0,309.4 1135.5,310.2 1137.0,311.0 1138.5,311.9 1140.0,312.7 1141.5,313.6 1143.0,314.4 1144.5,315.3 1146.0,316.2 1147.5,317.1 1149.0,318.0 1150.5,318.9 1152.0,319.8 1153.5,320.7 1155.0,321.6 1156.5,322.5 1158.0,323.5 1159.5,324.4 1161.0,325.4 1162.5,326.3 1164.0,327.3 1165.5,328.3 1167.0,329.2 1168.5,330.2 1170.0,331.2 1171.5,332.2 1173.0,333.2 1174.5,334.3 1176.0,335.3 1177.5,336.3 1179.0,337.4 1180.5,338.4 1182.0,339.5 1183.5,340.5 1185.0,341.6 1186.5,342.7 1188.0,343.8 1189.5,344.9 1191.0,346.0 1192.5,347.1 1194.0,348.2 1195.5,349.3 1197.0,350.5 1198.5,351.6 1200.0,352.7 1201.5,353.9 1203.0,355.1 1204.5,356.2 1206.0,357.4 1207.5,358.6 1209.0,359.8 1210.5,361.0 1212.0,362.2 1213.5,363.5 1215.0,364.7 1216.5,366.0 1218.0,367.2 1219.5,368.5 1221.0,369.7 1222.5,371.0 1224.0,372.3 1225.5,373.6 1227.0,374.9 1228.5,376.2 1230.0,377.5 1231.5,378.9 1233.0,380.2 1234.5,381.6 1236.0,382.9 1237.5,384.3 1239.0,385.7 1240.5,387.0 1242.0,388.4 1243.5,389.8 1245.0,391.2 1246.5,392.7 1248.0,394.1 1249.5,395.5 1251.0,397.0 1252.5,398.4 1254.0,399.9 1255.5,401.4 1257.0,402.8 1258.5,404.3 1260.0,405.8 1261.5,407.3 1263.0,408.8 1264.5,410.4 1266.0,411.9 1267.5,413.4 1269.0,415.0 1270.5,416.5 1272.0,418.1 1273.5,419.6 1275.0,421.2 1276.5,422.8 1278.0,424.3 1279.5,425.9 1281.0,427.5 1282.5,429.1 1284.0,430.7 1285.5,432.3 1287.0,434.0 1288.5,435.6 1290.0,437.2 1291.5,438.9 1293.0,440.5 1294.5,442.1 1296.0,443.8 1297.5,445.5 1299.0,447.1 1300.5,448.8 1302.0,450.5 1303.5,452.1 1305.0,453.8 1306.5,455.5 1308.0,457.2 1309.5,458.9 1311.0,460.6 1312.5,462.4 1314.0,464.1 1315.5,465.8 1317.0,467.5 1318.5,469.3 1320.0,471.0 1321.5,472.7 1323.0,474.5 1324.5,476.2 1326.0,478.0 1327.5,479.8 1329.0,481.5 1330.5,483.3 1332.0,485.1 1333.5,486.9 1335.0,488.6 1336.5,490.4 1338.0,492.2 1339.5,494.0 1341.0,495.8 1342.5,497.6 1344.0,499.4 1345.5,501.2 1347.0,503.1 1348.5,504.9 1350.0,506.7 1351.5,508.5 1353.0,510.3 1354.5,512.2 1356.0,514.0 1357.5,515.8 1359.0,517.6 1360.5,519.5 1362.0,521.3 1363.5,523.2 1365.0,525.0 1366.5,526.8 1368.0,528.7 1369.5,530.5 1371.0,532.4 1372.5,534.2 1374.0,536.1 1375.5,537.9 1377.0,539.8 1378.5,541.6 1380.0,543.5 1381.5,545.4 1383.0,547.2 1384.5,549.1 1386.0,550.9 1387.5,552.8 1389.0,554.7 1390.5,556.5 1392.0,558.4 1393.5,560.3 1395.0,562.1 1396.5,564.0 1398.0,565.9 1399.5,567.7 1401.0,569.6 1402.5,571.5 1404.0,573.4 1405.5,575.2 1407.0,577.1 1408.5,579.0 1410.0,580.8 1411.5,582.7 1413.0,584.6 1414.5,586.5 1416.0,588.3 1417.5,590.2 1419.0,592.1 1420.5,593.9 1422.0,595.8 1423.5,597.6 1425.0,599.5 1426.5,601.4 1428.0,603.2 1429.5,605.1 1431.0,606.9 1432.5,608.8 1434.0,610.6 1435.5,612.5 1437.0,614.3 1438.5,616.2 1440.0,618.0 1441.5,619.8 1443.0,621.7 1444.5,623.5 1446.0,625.3 1447.5,627.2 1449.0,629.0 1450.5,630.8 1452.0,632.6 1453.5,634.4 1455.0,636.2 1456.5,638.0 1458.0,639.9 1459.5,641.7 1461.0,643.5 1462.5,645.2 1464.0,647.0 1465.5,648.8 1467.0,650.6 1468.5,652.4 1470.0,654.2 1471.5,655.9 1473.0,657.7 1474.5,659.5 1476.0,661.3 1477.5,663.0 1479.0,664.8 1480.5,666.5 1482.0,668.3 1483.5,670.0 1485.0,671.8 1486.5,673.5 1488.0,675.2 1489.5,677.0 1491.0,678.7 1492.5,680.4 1494.0,682.1 1495.5,683.9 1497.0,685.6 1498.5,687.3 1500.0,689.0 1501.5,690.7 1503.0,692.4 1504.5,694.1 1506.0,695.8 1507.5,697.4 1509.0,699.1 1510.5,700.8 1512.0,702.5 1513.5,704.1 1515.0,705.8 1516.5,707.5 1518.0,709.1 1519.5,710.8 1521.0,712.4 1522.5,714.1 1524.0,715.7 1525.5,717.3 1527.0,719.0 1528.5,720.6 1530.0,722.2 1531.5,723.8 1533.0,725.5 1534.5,727.1 1536.0,728.7 1537.5,730.3 1539.0,731.9 1540.5,733.5 1542.0,735.0 1543.5,736.6 1545.0,738.2 1546.5,739.8 1548.0,741.3 1549.5,742.9 1551.0,744.5 1552.5,746.0 1554.0,747.6 1555.5,749.1 1557.0,750.7 1558.5,752.2 1560.0,753.7 1561.5,755.3 1563.0,756.8 1564.5,758.3 1566.0,759.8 1567.5,761.3 1569.0,762.8 1570.5,764.3 1572.0,765.8 1573.5,767.3 1575.0,768.8 1576.5,770.3 1578.0,771.8 1579.5,773.3 1581.0,774.7 1582.5,776.2 1584.0,777.7 1585.5,779.1 1587.0,780.6 1588.5,782.0 1590.0,783.5 1591.5,784.9 1593.0,786.4 1594.5,787.8 1596.0,789.2 1597.5,790.6 1599.0,792.1 1600.5,793.5 1602.0,794.9 1603.5,796.3 1605.0,797.7 1606.5,799.1 1608.0,800.5 1609.5,801.8 1611.0,803.2 1612.5,804.6 1614.0,806.0 1615.5,807.4 1617.0,808.7 1618.5,810.1 1620.0,811.4 1621.5,812.8 1623.0,814.1 1624.5,815.5 1626.0,816.8 1627.5,818.2 1629.0,819.5 1630.5,820.8 1632.0,822.2 1633.5,823.5 1635.0,824.8 1636.5,826.1 1638.0,827.4 1639.5,828.7 1641.0,830.1 1642.5,831.4 1644.0,832.7 1645.5,834.0 1647.0,835.3 1648.5,836.6 1650.0,837.9 1651.5,839.2 1653.0,840.4 1654.5,841.7 1656.0,843.0 1657.5,844.3 1659.0,845.6 1660.5,846.9 1662.0,848.1 1663.5,849.4 1665.0,850.7 1666.5,852.0 1668.0,853.3 1669.5,854.5 1671.0,855.8 1672.5,857.1 1674.0,858.3 1675.5,859.6 1677.0,860.9 1678.0,861.7" stroke="#f00"/>
<path d="M216.5,452.5 216.6,451.0 216.8,449.6 216.9,448.1 217.1,446.6 217.2,445.1 217.4,443.6 217.5,442.1 217.7,440.6 217.8,439.1 218.0,437.6 218.2,436.2 218.3,434.7 218.5,433.2 218.7,431.6 218.8,430.1 219.0,428.6 219.2,427.1 219.4,425.6 219.6,424.1 219.8,422.6 220.0,421.0 220.2,419.5 220.4,417.9 220.6,416.4 220.8,414.8 221.0,413.3 221.2,411.7 221.4,410.1 221.6,408.6 221.8,407.0 222.1,405.4 222.3,403.8 222.5,402.2 222.8,400.6 223.0,399.0 223.3,397.4 223.6,395.7 223.8,394.1 224.1,392.5 224.4,390.8 224.7,389.2 225.0,387.6 225.3,385.9 225.7,384.3 226.0,382.7 226.3,381.1 226.7,379.5 227.1,377.9 227.5,376.3 227.9,374.7 228.3,373.1 228.8,371.6 229.3,370.1 229.8,368.6 230.3,367.1 230.8,365.7 231.4,364.3 231.9,363.0 232.5,361.7 233.2,360.5 233.8,359.4 234.5,358.3 235.2,357.3 235.9,356.3 236.7,355.5 237.5,354.8 238.3,354.2 239.1,353.6 240.0,353.3 240.9,353.0 241.8,352.9 242.7,352.9 243.6,353.1 244.5,353.4 245.5,353.8 246.4,354.3 247.3,355.0 248.3,355.7 249.2,356.5 250.1,357.4 251.0,358.4 251.9,359.4 252.7,360.5 253.6,361.7 254.4,362.9 255.2,364.1 256.0,365.4 256.8,366.8 257.5,368.1 258.3,369.5 259.0,371.0 259.7,372.4 260.4,373.9 261.1,375.4 261.8,376.9 262.4,378.4 263.0,379.9 263.6,381.4 264.2,383.0 264.8,384.5 265.3,386.1 265.9,387.6 266.4,389.2 266.9,390.7 267.4,392.3 267.9,393.9 268.4,395.4 268.9,397.0 269.3,398.5 269.8,400.1 270.2,401.6 270.7,403.2 271.1,404.7 271.5,406.2 271.9,407.8 272.3,409.3 272.7,410.8 273.1,412.3 273.5,413.8 273.9,415.3 274.3,416.8 274.6,418.3 275.0,419.8 275.4,421.3 275.7,422.8 276.1,424.3 276.5,425.8 276.8,427.3 277.2,428.7 277.6,430.2 277.9,431.7 278.3,433.2 278.6,434.6 279.0,436.1 279.3,437.5 279.7,439.0 280.0,440.5 280.4,441.9 280.7,443.4 281.0,444.8 281.4,446.3 281.7,447.8 282.1,449.2 282.4,450.7 282.7,452.1 283.1,453.6 283.4,455.1 283.7,456.5 284.0,458.0 284.4,459.4 284.7,460.9 285.0,462.4 285.3,463.8 285.6,465.3 285.9,466.7 286.2,468.2 286.6,469.7 286.9,471.1 287.2,472.6 287.5,474.1 287.8,475.5 288.1,477.0 288.4,478.5 288.7,479.9 288.9,481.4 289.2,482.9 289.5,484.3 289.8,485.8 290.1,487.3 290.4,488.8 290.7,490.2 291.0,491.7 291.2,493.2 291.5,494.7 291.8,496.1 292.1,497.6 292.4,499.1 292.7,500.5 292.9,502.0 293.2,503.5 293.5,505.0 293.8,506.4 294.0,507.9 294.3,509.4 294.6,510.9 294.8,512.4 295.1,513.8 295.4,515.3 295.6,516.8 295.9,518.3 296.1,519.7 296.4,521.2 296.7,522.7 296.9,524.2 297.2,525.7 297.4,527.1 297.7,528.6 297.9,530.1 298.2,531.6 298.5,533.1 298.7,534.5 299.0,536.0 299.2,537.5 299.5,539.0 299.7,540.4 300.0,541.9 300.3,543.4 300.5,544.9 300.8,546.4 301.1,547.8 301.3,549.3 301.6,550.8 301.9,552.3 302.1,553.7 302.4,555.2 302.7,556.7 303.0,558.2 303.3,559.6 303.5,561.1 303.8,562.6 304.1,564.1 304.4,565.5 304.7,567.0 305.0,568.5 305.3,569.9 305.6,571.4 305.9,572.9 306.2,574.4 306.5,575.8 306.8,577.3 307.1,578.8 307.5,580.2 307.8,581.7 308.1,583.2 308.4,584.6 308.7,586.1 309.1,587.6 309.4,589.0 309.7,590.5 310.0,592.0 310.4,593.4 310.7,594.9 311.0,596.3 311.4,597.8 311.7,599.3 312.1,600.7 312.4,602.2 312.7,603.7 313.1,605.1 313.4,606.6 313.8,608.0 314.1,609.5 314.4,611.0 314.8,612.4 315.1,613.9 315.5,615.3 315.8,616.8 316.2,618.3 316.5,619.7 316.8,621.2 317.2,622.7 317.5,624.1 317.9,625.6 318.2,627.0 318.5,628.5 318.9,630.0 319.2,631.4 319.5,632.9 319.9,634.4 320.2,635.8 320.5,637.3 320.9,638.7 321.2,640.2 321.5,641.7 321.8,643.1 322.1,644.6 322.4,646.1 322.8,647.5 323.1,649.0 323.4,650.5 323.7,652.0 324.0,653.4 324.3,654.9 324.6,656.4 324.9,657.8 325.2,659.3 325.5,660.8 325.8,662.2 326.1,663.7 326.4,665.2 326.8,666.6 327.1,668.1 327.4,669.6 327.7,671.0 328.0,672.5 328.3,674.0 328.6,675.4 328.9,676.9 329.3,678.4 329.6,679.8 329.9,681.3 330.2,682.8 330.5,684.2 330.9,685.7 331.2,687.2 331.5,688.6 331.8,690.1 332.2,691.6 332.5,693.0 332.8,694.5 333.1,696.0 333.5,697.4 333.8,698.9 334.1,700.4 334.5,701.8 334.8,703.3 335.1,704.8 335.5,706.2 335.8,707.7 336.1,709.1 336.5,710.6 336.8,712.1 337.2,713.5 337.5,715.0 337.9,716.4 338.2,717.9 338.6,719.4 338.9,720.8 339.3,722.3 339.6,723.7 340.0,725.2 340.4,726.7 340.7,728.1 341.1,729.6 341.5,731.0 341.8,732.5 342.2,733.9 342.6,735.4 342.9,736.8 343.3,738.3 343.7,739.7 344.1,741.2 344.5,742.6 344.8,744.1 345.2,745.6 345.6,747.0 346.0,748.5 346.3,749.9 346.7,751.4 347.1,752.8 347.5,754.3 347.9,755.7 348.2,757.2 348.6,758.6 349.0,760.1 349.4,761.5 349.8,763.0 350.1,764.4 350.5,765.9 350.9,767.3 351.3,768.8 351.7,770.2 352.1,771.7 352.5,773.1 352.9,774.6 353.3,776.0 353.7,777.5 354.1,778.9 354.5,780.4 354.9,781.8 355.3,783.3 355.7,784.7 356.1,786.1 356.5,787.6 357.0,789.0 357.4,790.5 357.8,791.9 358.3,793.3 358.7,794.8 359.2,796.2 359.6,797.6 360.1,799.1 360.6,800.5 361.0,801.9 361.5,803.3 362.0,804.8 362.5,806.2 363.0,807.6 363.5,809.0 364.0,810.4 364.5,811.8 365.0,813.2 365.5,814.6 366.0,816.1 366.6,817.5 367.1,818.9 367.7,820.3 368.2,821.7 368.8,823.1 369.3,824.4 369.9,825.8 370.4,827.2 371.0,828.6 371.6,830.0 372.2,831.4 372.7,832.8 373.3,834.2 373.9,835.5 374.5,836.9 375.1,838.3 375.7,839.7 376.3,841.0 377.0,842.4 377.6,843.8 378.2,845.1 378.8,846.5 379.5,847.8 380.1,849.2 380.8,850.6 381.4,851.9 382.1,853.2 382.8,854.6 383.5,855.9 384.1,857.3 384.8,858.6 385.5,859.9 386.2,861.2 386.9,862.6 387.7,863.9 388.4,865.2 389.1,866.5 389.8,867.8 390.6,869.1 391.3,870.4 392.1,871.7 392.8,873.0 393.6,874.3 394.4,875.6 395.2,876.9 395.9,878.1 396.7,879.4 397.5,880.7 398.3,882.0 399.1,883.2 400.0,884.5 400.8,885.7 401.6,887.0 402.4,888.2 403.3,889.5 404.1,890.7 405.0,892.0 405.8,893.2 406.7,894.4 407.5,895.7 408.4,896.9 409.2,898.1 410.1,899.3 411.0,900.6 411.9,901.8 412.7,903.0 413.6,904.2 414.5,905.4 415.4,906.7 416.3,907.9 417.2,909.1 418.1,910.3 418.9,911.5 419.8,912.7 420.7,913.9 421.6,915.1 422.5,916.3 423.4,917.5 424.3,918.7 425.2,919.9 426.1,921.1 427.0,922.3 427.9,923.5 428.8,924.7 429.8,925.9 430.7,927.1 431.6,928.3 432.5,929.5 433.4,930.7 434.3,931.9 435.2,933.1 436.1,934.3 437.1,935.5 438.0,936.7 438.9,937.9 439.8,939.0 440.8,940.2 441.7,941.4 442.6,942.6 443.5,943.8 444.5,944.9 445.4,946.1 446.4,947.3 447.3,948.5 448.2,949.6 449.2,950.8 450.1,952.0 451.1,953.1 452.1,954.3 453.0,955.4 454.0,956.6 455.0,957.7 455.9,958.9 456.9,960.0 457.9,961.1 458.9,962.3 459.9,963.4 460.9,964.5 461.9,965.6 462.9,966.8 463.9,967.9 464.9,969.0 465.9,970.1 467.0,971.2 468.0,972.2 469.0,973.3 470.1,974.4 471.1,975.5 472.2,976.5 473.3,977.6 474.3,978.6 475.4,979.7 476.5,980.7 477.6,981.7 478.7,982.7 479.8,983.7 480.9,984.8 482.0,985.7 483.2,986.7 484.3,987.7 485.4,988.7 486.6,989.6 487.7,990.6 488.9,991.6 490.1,992.5 491.2,993.4 492.4,994.3 493.6,995.3 494.8,996.2 496.0,997.1 497.2,997.9 498.4,998.8 499.6,999.7 500.8,1000.6 502.1,1001.4 503.3,1002.3 504.6,1003.1 505.8,1003.9 507.1,1004.8 508.3,1005.6 509.6,1006.4 510.8,1007.2 512.1,1008.0 513.4,1008.8 514.7,1009.6 516.0,1010.3 517.2,1011.1 518.5,1011.9 519.8,1012.6 521.1,1013.4 522.4,1014.1 523.7,1014.9 525.1,1015.6 526.4,1016.3 527.7,1017.1 529.0,1017.8 530.3,1018.5 531.6,1019.2 533.0,1019.9 534.3,1020.6 535.6,1021.3 537.0,1022.0 538.3,1022.7 539.7,1023.3 541.0,1024.0 542.3,1024.7 543.7,1025.4 545.0,1026.0 546.4,1026.7 547.7,1027.3 549.1,1028.0 550.5,1028.6 551.8,1029.3 553.2,1029.9 554.5,1030.6 555.9,1031.2 557.3,1031.8 558.6,1032.5 560.0,1033.1 561.4,1033.7 562.7,1034.3 564.1,1034.9 565.5,1035.5 566.9,1036.1 568.2,1036.7 569.6,1037.3 571.0,1037.9 572.4,1038.5 573.8,1039.1 575.2,1039.6 576.6,1040.2 577.9,1040.8 579.3,1041.3 580.0,1041.6 581.5,1042.2 583.0,1042.7 584.5,1043.3 586.0,1043.8 587.5,1044.4 589.0,1044.9 590.5,1045.4 592.0,1045.9 593.5,1046.4 595.0,1046.9 596.5,1047.4 598.0,1047.9 599.5,1048.3 601.0,1048.8 602.5,1049.2 604.0,1049.6 605.5,1050.1 607.0,1050.5 608.5,1050.9 610.0,1051.3 611.5,1051.7 613.0,1052.0 614.5,1052.4 616.0,1052.8 617.5,1053.1 619.0,1053.5 620.5,1053.8 622.0,1054.2 623.5,1054.5 625.0,1054.8 626.5,1055.1 628.0,1055.4 629.5,1055.7 631.0,1056.0 632.5,1056.3 634.0,1056.6 635.5,1056.9 637.0,1057.2 638.5,1057.4 640.0,1057.7 641.5,1057.9 643.0,1058.2 644.5,1058.4 646.0,1058.7 647.5,1058.9 649.0,1059.1 650.5,1059.4 652.0,1059.6 653.5,1059.8 655.0,1060.0 656.5,1060.2 658.0,1060.4 659.5,1060.6 661.0,1060.8 662.5,1060.9 664.0,1061.1 665.5,1061.3 667.0,1061.4 668.5,1061.6 670.0,1061.7 671.5,1061.9 673.0,1062.0 674.5,1062.1 676.0,1062.3 677.5,1062.4 679.0,1062.5 680.5,1062.6 682.0,1062.7 683.5,1062.8 685.0,1062.9 686.5,1063.0 688.0,1063.0 689.5,1063.1 691.0,1063.2 692.5,1063.2 694.0,1063.3 695.5,1063.3 697.0,1063.4 698.5,1063.4 700.0,1063.4 701.5,1063.5 703.0,1063.5 704.5,1063.5 706.0,1063.5 707.5,1063.5 709.0,1063.5 710.5,1063.5 712.0,1063.5 713.5,1063.4 715.0,1063.4 716.5,1063.4 718.0,1063.3 719.5,1063.3 721.0,1063.2 722.5,1063.2 724.0,1063.1 725.5,1063.1 727.0,1063.0 728.5,1062.9 730.0,1062.8 731.5,1062.8 733.0,1062.7 734.5,1062.6 736.0,1062.5 737.5,1062.4 739.0,1062.3 740.5,1062.2 742.0,1062.0 743.5,1061.9 745.0,1061.8 746.5,1061.7 748.0,1061.5 749.5,1061.4 751.0,1061.2 752.5,1061.1 754.0,1060.9 755.5,1060.8 757.0,1060.6 758.5,1060.4 760.0,1060.3 761.5,1060.1 763.0,1059.9 764.5,1059.7 766.0,1059.6 767.5,1059.4 769.0,1059.2 770.5,1059.0 772.0,1058.8 773.5,1058.6 775.0,1058.3 776.5,1058.1 778.0,1057.9 779.5,1057.7 781.0,1057.5 782.5,1057.2 784.0,1057.0 785.5,1056.8 787.0,1056.5 788.5,1056.3 790.0,1056.0 791.5,1055.8 793.0,1055.5 794.5,1055.2 796.0,1055.0 797.5,1054.7 799.0,1054.4 800.5,1054.1 802.0,1053.8 803.5,1053.6 805.0,1053.3 806.5,1053.0 808.0,1052.7 809.5,1052.4 811.0,1052.1 812.5,1051.8 814.0,1051.4 815.5,1051.1 817.0,1050.8 818.5,1050.5 820.0,1050.1 821.5,1049.8 823.0,1049.5 824.5,1049.1 826.0,1048.8 827.5,1048.4 829.0,1048.1 830.5,1047.7 832.0,1047.4 833.5,1047.0 835.0,1046.7 836.5,1046.3 838.0,1045.9 839.5,1045.5 841.0,1045.2 842.5,1044.8 844.0,1044.4 845.5,1044.0 847.0,1043.6 848.5,1043.2 850.0,1042.8 851.5,1042.4 853.0,1042.0 854.5,1041.6 856.0,1041.2 857.5,1040.8 859.0,1040.3 860.5,1039.9 862.0,1039.5 863.5,1039.0 865.0,1038.6 866.5,1038.2 868.0,1037.7 869.5,1037.3 871.0,1036.8 872.5,1036.3 874.0,1035.9 875.5,1035.4 877.0,1034.9 878.5,1034.5 880.0,1034.0 881.5,1033.5 883.0,1033.0 884.5,1032.5 886.0,1032.0 887.5,1031.5 889.0,1031.0 890.5,1030.5 892.0,1030.0 893.5,1029.5 895.0,1029.0 896.5,1028.5 898.0,1028.0 899.5,1027.4 901.0,1026.9 902.5,1026.4 904.0,1025.8 905.5,1025.3 907.0,1024.8 908.5,1024.2 910.0,1023.7 911.5,1023.1 913.0,1022.6 914.5,1022.0 916.0,1021.5 917.5,1020.9 919.0,1020.3 920.5,1019.8 922.0,1019.2 923.5,1018.6 925.0,1018.0 926.5,1017.5 928.0,1016.9 929.5,1016.3 931.0,1015.7 932.5,1015.1 934.0,1014.5 935.5,1013.9 937.0,1013.3 938.5,1012.7 940.0,1012.1 941.5,1011.5 943.0,1010.9 944.5,1010.3 946.0,1009.7 947.5,1009.1 949.0,1008.4 950.5,1007.8 952.0,1007.2 953.5,1006.6 955.0,1005.9 956.5,1005.3 958.0,1004.7 959.5,1004.0 961.0,1003.4 962.5,1002.7 964.0,1002.1 965.5,1001.4 967.0,1000.8 968.5,1000.1 970.0,999.5 971.5,998.8 973.0,998.2 974.5,997.5 976.0,996.8 977.5,996.1 979.0,995.5 980.5,994.8 982.0,994.1 983.5,993.4 985.0,992.7 986.5,992.0 988.0,991.3 989.5,990.7 991.0,990.0 992.5,989.2 994.0,988.5 995.5,987.8 997.0,987.1 998.5,986.4 1000.0,985.7 1001.5,985.0 1003.0,984.2 1004.5,983.5 1006.0,982.8 1007.5,982.0 1009.0,981.3 1010.5,980.6 1012.0,979.8 1013.5,979.1 1015.0,978.3 1016.5,977.6 1018.0,976.8 1019.5,976.1 1021.0,975.3 1022.5,974.5 1024.0,973.8 1025.5,973.0 1027.0,972.2 1028.5,971.5 1030.0,970.7 1031.5,969.9 1033.0,969.1 1034.5,968.3 1036.0,967.6 1037.5,966.8 1039.0,966.0 1040.5,965.2 1042.0,964.4 1043.5,963.6 1045.0,962.8 1046.5,962.0 1048.0,961.1 1049.5,960.3 1051.0,959.5 1052.5,958.7 1054.0,957.9 1055.5,957.0 1057.0,956.2 1058.5,955.4 1060.0,954.6 1061.5,953.7 1063.0,952.9 1064.5,952.0 1066.0,951.2 1067.5,950.4 1069.0,949.5 1070.5,948.6 1072.0,947.8 1073.5,946.9 1075.0,946.1 1076.5,945.2 1078.0,944.3 1079.5,943.5 1081.0,942.6 1082.5,941.7 1084.0,940.9 1085.5,940.0 1087.0,939.1 1088.5,938.2 1090.0,937.3 1091.5,936.4 1093.0,935.6 1094.5,934.7 1096.0,933.8 1097.5,932.9 1099.0,932.0 1100.5,931.1 1102.0,930.2 1103.5,929.3 1105.0,928.4 1106.5,927.5 1108.0,926.6 1109.5,925.7 1111.0,924.8 1112.5,923.8 1114.0,922.9 1115.5,922.0 1117.0,921.1 1118.5,920.2 1120.0,919.3 1121.5,918.4 1123.0,917.4 1124.5,916.5 1126.0,915.6 1127.5,914.7 1129.0,913.8 1130.5,912.9 1132.0,911.9 1133.5,911.0 1135.0,910.1 1136.5,909.2 1138.0,908.3 1139.5,907.3 1141.0,906.4 1142.5,905.5 1144.0,904.6 1145.5,903.7 1147.0,902.8 1148.5,901.8 1150.0,900.9 1151.5,900.0 1153.0,899.1 1154.5,898.2 1156.0,897.2 1157.5,896.3 1159.0,895.4 1160.5,894.5 1162.0,893.6 1163.5,892.7 1165.0,891.8 1166.5,890.8 1168.0,889.9 1169.5,889.0 1171.0,888.1 1172.5,887.2 1174.0,886.3 1175.5,885.4 1177.0,884.5 1178.5,883.5 1180.0,882.6 1181.5,881.7 1183.0,880.8 1184.5,879.9 1186.0,879.0 1187.5,878.1 1189.0,877.2 1190.5,876.3 1192.0,875.4 1193.5,874.5 1195.0,873.6 1196.5,872.7 1198.0,871.8 1199.5,871.0 1201.0,870.1 1202.5,869.2 1204.0,868.3 1205.5,867.4 1207.0,866.5 1208.5,865.7 1210.0,864.8 1211.5,863.9 1213.0,863.0 1214.5,862.2 1216.0,861.3 1217.5,860.4 1219.0,859.6 1220.5,858.7 1222.0,857.8 1223.5,857.0 1225.0,856.1 1226.5,855.3 1228.0,854.4 1229.5,853.6 1231.0,852.8 1232.5,851.9 1234.0,851.1 1235.5,850.3 1237.0,849.4 1238.5,848.6 1240.0,847.8 1241.5,847.0 1243.0,846.2 1244.5,845.4 1246.0,844.5 1247.5,843.7 1249.0,843.0 1250.5,842.2 1252.0,841.4 1253.5,840.6 1255.0,839.8 1256.5,839.0 1258.0,838.3 1259.5,837.5 1261.0,836.7 1262.5,836.0 1264.0,835.2 1265.5,834.5 1267.0,833.7 1268.5,833.0 1270.0,832.2 1271.5,831.5 1273.0,830.8 1274.5,830.0 1276.0,829.3 1277.5,828.6 1279.0,827.9 1280.5,827.2 1282.0,826.5 1283.5,825.8 1285.0,825.1 1286.5,824.4 1288.0,823.7 1289.5,823.1 1291.0,822.4 1292.5,821.7 1294.0,821.1 1295.5,820.4 1297.0,819.7 1298.5,819.1 1300.0,818.4 1301.5,817.8 1303.0,817.2 1304.5,816.5 1306.0,815.9 1307.5,815.3 1309.0,814.7 1310.5,814.1 1312.0,813.5 1313.5,812.9 1315.0,812.3 1316.5,811.7 1318.0,811.1 1319.5,810.5 1321.0,810.0 1322.5,809.4 1324.0,808.8 1325.5,808.3 1327.0,807.7 1328.5,807.2 1330.0,806.6 1331.5,806.1 1333.0,805.5 1334.5,805.0 1336.0,804.5 1337.5,804.0 1339.0,803.4 1340.5,802.9 1342.0,802.4 1343.5,801.9 1345.0,801.4 1346.5,800.9 1348.0,800.4 1349.5,800.0 1351.0,799.5 1352.5,799.0 1354.0,798.6 1355.5,798.1 1357.0,797.6 1358.5,797.2 1360.0,796.7 1361.5,796.3 1363.0,795.8 1364.5,795.4 1366.0,795.0 1367.5,794.6 1369.0,794.1 1370.5,793.7 1372.0,793.3 1373.5,792.9 1375.0,792.5 1376.5,792.1 1378.0,791.7 1379.5,791.3 1381.0,791.0 1382.5,790.6 1384.0,790.2 1385.5,789.8 1387.0,789.5 1388.5,789.1 1390.0,788.8 1391.5,788.4 1393.0,788.1 1394.5,787.7 1396.0,787.4 1397.5,787.1 1399.0,786.8 1400.5,786.4 1402.0,786.1 1403.5,785.8 1405.0,785.5 1406.5,785.2 1408.0,784.9 1409.5,784.6 1411.0,784.3 1412.5,784.1 1414.0,783.8 1415.5,783.5 1417.0,783.3 1418.5,783.0 1420.0,782.7 1421.5,782.5 1423.0,782.2 1424.5,782.0 1426.0,781.8 1427.5,781.5 1429.0,781.3 1430.5,781.1 1432.0,780.9 1433.5,780.7 1435.0,780.5 1436.5,780.3 1438.0,780.1 1439.5,779.9 1441.0,779.7 1442.5,779.5 1444.0,779.4 1445.5,779.2 1447.0,779.0 1448.5,778.9 1450.0,778.7 1451.5,778.6 1453.0,778.4 1454.5,778.3 1456.0,778.1 1457.5,778.0 1459.0,777.9 1460.5,777.8 1462.0,777.6 1463.5,777.5 1465.0,777.4 1466.5,777.3 1468.0,777.2 1469.5,777.1 1471.0,777.0 1472.5,776.9 1474.0,776.9 1475.5,776.8 1477.0,776.7 1478.5,776.6 1480.0,776.6 1481.5,776.5 1483.0,776.4 1484.5,776.4 1486.0,776.3 1487.5,776.3 1489.0,776.3 1490.5,776.2 1492.0,776.2 1493.5,776.2 1495.0,776.1 1496.5,776.1 1498.0,776.1 1499.5,776.1 1501.0,776.1 1502.5,776.0 1504.0,776.0 1505.5,776.0 1507.0,776.0 1508.5,776.1 1510.0,776.1 1511.5,776.1 1513.0,776.1 1514.5,776.1 1516.0,776.1 1517.5,776.2 1519.0,776.2 1520.5,776.2 1522.0,776.3 1523.5,776.3 1525.0,776.3 1526.5,776.4 1528.0,776.4 1529.5,776.5 1531.0,776.5 1532.5,776.6 1534.0,776.7 1535.5,776.7 1537.0,776.8 1538.5,776.9 1540.0,776.9 1541.5,777.0 1543.0,777.1 1544.5,777.2 1546.0,777.2 1547.5,777.3 1549.0,777.4 1550.5,777.5 1552.0,777.6 1553.5,777.7 1555.0,777.8 1556.5,777.9 1558.0,778.0 1559.5,778.1 1561.0,778.2 1562.5,778.3 1564.0,778.5 1565.5,778.6 1567.0,778.7 1568.5,778.8 1570.0,778.9 1571.5,779.1 1573.0,779.2 1574.5,779.3 1576.0,779.4 1577.5,779.6 1579.0,779.7 1580.5,779.9 1582.0,780.0 1583.5,780.1 1585.0,780.3 1586.5,780.4 1588.0,780.6 1589.5,780.7 1591.0,780.9 1592.5,781.0 1594.0,781.2 1595.5,781.3 1597.0,781.5 1598.5,781.6 1600.0,781.8 1601.5,781.9 1603.0,782.1 1604.5,782.3 1606.0,782.4 1607.5,782.6 1609.0,782.8 1610.5,782.9 1612.0,783.1 1613.5,783.3 1615.0,783.4 1616.5,783.6 1618.0,783.8 1619.5,783.9 1621.0,784.1 1622.5,784.3 1624.0,784.4 1625.5,784.6 1627.0,784.8 1628.5,785.0 1630.0,785.1 1631.5,785.3 1633.0,785.5 1634.5,785.7 1636.0,785.9 1637.5,786.0 1639.0,786.2 1640.5,786.4 1642.0,786.6 1643.5,786.8 1645.0,786.9 1646.5,787.1 1648.0,787.3 1649.5,787.5 1651.0,787.7 1652.5,787.9 1654.0,788.1 1655.5,788.2 1657.0,788.4 1658.5,788.6 1660.0,788.8 1661.5,789.0 1663.0,789.2 1664.5,789.4 1666.0,789.6 1667.5,789.7 1669.0,789.9 1670.5,790.1 1672.0,790.3 1673.5,790.5 1675.0,790.7 1676.5,790.9 1678.0,791.1" stroke="#00f"/>
</g>
<path d="M318.0,1160.3v-15M318.0,46.2v13.5M658.8,1160.3v-15M658.8,46.2v13.5M999.5,1160.3v-15M999.5,46.2v13.5M1340.4,1160.3v-15M1340.4,46.2v13.5M216.5,937.6h15M1678.0,937.6h-13M216.5,714.6h15M1678.0,714.6h-13M216.5,491.7h15M1678.0,491.7h-13M216.5,268.7h15M1678.0,268.7h-13" stroke="#222" stroke-width="3.2" fill="none"/>
<rect x="216.5" y="46.2" width="1461.5" height="1114.1" stroke="#222" stroke-width="3.4" fill="none"/>
<g font-family="'Liberation Sans', Arial, Helvetica, sans-serif" font-size="66.4" fill="#141414" stroke="#fff" stroke-width="1.3">
<text transform="translate(365.9,1245.5) scale(0.953,1)" text-anchor="end">500</text>
<text transform="translate(726.1,1245.5) scale(0.953,1)" text-anchor="end">1000</text>
<text transform="translate(1067.0,1245.5) scale(0.953,1)" text-anchor="end">1500</text>
<text transform="translate(1407.0,1245.5) scale(0.953,1)" text-anchor="end">2000</text>
<text transform="translate(1748.9,1245.5) scale(0.953,1)" text-anchor="end">2500</text>
<text transform="translate(192.5,1185.2) scale(0.953,1)" text-anchor="end">0</text>
<text transform="translate(197.5,961.7) scale(0.953,1)" text-anchor="end">0.2</text>
<text transform="translate(196.1,739.2) scale(0.953,1)" text-anchor="end">0.4</text>
<text transform="translate(195.6,513.0) scale(0.953,1)" text-anchor="end">0.6</text>
<text transform="translate(197.0,290.4) scale(0.953,1)" text-anchor="end">0.8</text>
<text transform="translate(159.5,68.0) scale(0.953,1)">1</text>
</g>
<g fill="#fff"><rect x="589.62" y="1239.54" width="11.59" height="7.16"/><rect x="606.80" y="1239.54" width="11.09" height="7.16"/><rect x="930.52" y="1239.54" width="11.59" height="7.16"/><rect x="947.70" y="1239.54" width="11.09" height="7.16"/><rect x="163.82" y="62.04" width="11.59" height="7.16"/><rect x="181.00" y="62.04" width="11.09" height="7.16"/></g>
<text transform="translate(683.9,1340.2) scale(0.9685,1)" font-family="'Liberation Sans', Arial, Helvetica, sans-serif" font-size="72.0" fill="#141414" stroke="#fff" stroke-width="1.3">Wavelength (nm)</text>
<text transform="translate(76.2,769.5) rotate(-90) scale(0.9685,1)" font-family="'Liberation Sans', Arial, Helvetica, sans-serif" font-size="72.0" fill="#141414" stroke="#fff" stroke-width="1.3">Absorption</text>
<g font-family="'Liberation Sans', Arial, Helvetica, sans-serif" font-size="52.3" fill="#000" stroke="#fff" stroke-width="0.5">
<path d="M843,599.9H980" stroke="#000" stroke-width="5.6"/>
<text transform="translate(987.5,618.0) scale(0.966,1)">Total absorption</text>
<path d="M843,663.9H980" stroke="#f00" stroke-width="5.6"/>
<text transform="translate(987.5,682.2) scale(0.946,1)">Absorption in array</text>
<path d="M843,728.0H980" stroke="#00f" stroke-width="5.6"/>
<text transform="translate(987.5,749.0) scale(0.946,1)">Absorption in substrate</text>
</g>
</svg>
</body></html>
